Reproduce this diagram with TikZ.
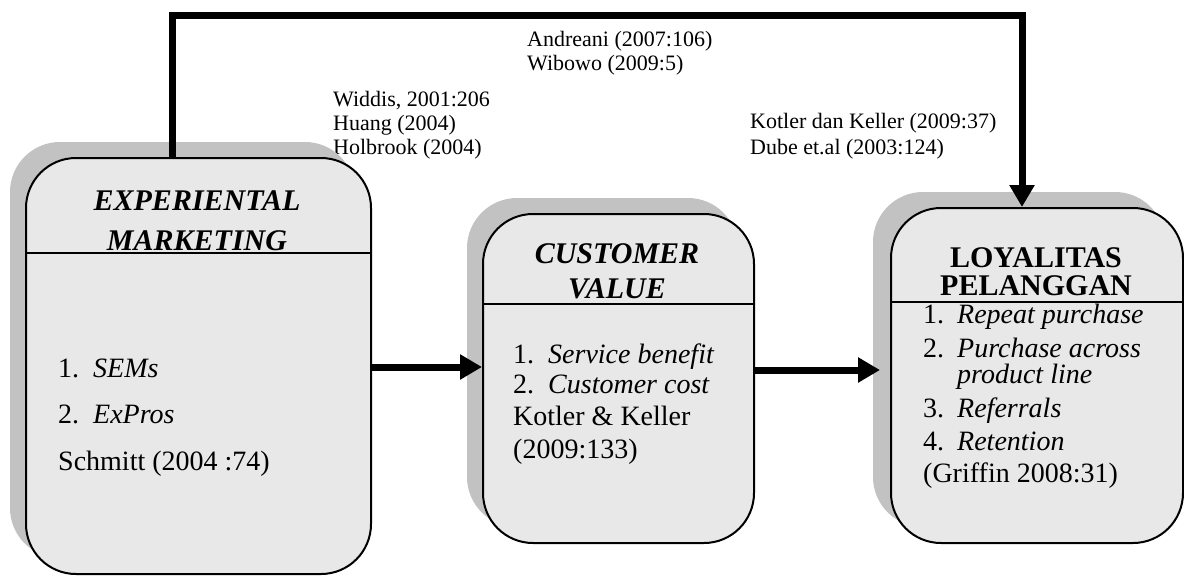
\documentclass[tikz,border=0pt]{standalone}
\usepackage{fontspec}
\setmainfont{Liberation Serif}
\usetikzlibrary{arrows.meta}
\definecolor{boxfill}{HTML}{E8E8E8}
\definecolor{shadowfill}{HTML}{C2C2C2}
\begin{document}
\begin{tikzpicture}[x=1pt,y=-1pt,
  panel/.style={draw=black, line width=2pt, fill=boxfill, rounded corners=50pt, inner sep=0pt, anchor=north west},
  shade/.style={fill=shadowfill, rounded corners=50pt},
  divider/.style={draw=black, line width=2pt},
  flow/.style={line width=7pt, line join=miter, -{Triangle[length=22pt,width=24pt]}},
  cite/.style={anchor=base west, inner sep=0pt, font=\fontsize{22}{24}\selectfont},
  body/.style={anchor=base west, inner sep=0pt, font=\fontsize{28}{30}\selectfont},
  ttl/.style={anchor=base, inner sep=0pt, font=\fontsize{30}{34}\selectfont\bfseries},
]
\useasboundingbox (0,0) rectangle (1184,576);

% citations (drawn first)
\node[cite] (c1) at (527,46) {Andreani (2007:106)};
\node[cite] (c2) at (527,70) {Wibowo (2009:5)};
\node[cite] (c3) at (333,106) {Widdis, 2001:206};
\node[cite] (c4) at (333,130) {Huang (2004)};
\node[cite] (c5) at (333,154) {Holbrook (2004)};
\node[cite] (c6) at (750,128) {Kotler dan Keller (2009:37)};
\node[cite] (c7) at (750,154) {Dube et.al (2003:124)};

% boxes geometry
\path (25,157) coordinate (expNW) (370,573) coordinate (expSE);
\path (482,213) coordinate (cvNW) (753,542) coordinate (cvSE);
\path (890,207) coordinate (loyNW) (1182,542) coordinate (loySE);

% shadows
\fill[shade] ([shift={(-15,-15)}]expNW) rectangle ([shift={(-15,-15)}]expSE);
\fill[shade] ([shift={(-15,-15)}]cvNW) rectangle ([shift={(-15,-15)}]cvSE);
\fill[shade] ([shift={(-17,-15)}]loyNW) rectangle ([shift={(-17,-15)}]loySE);

% panels
\node[panel, minimum width=345pt, minimum height=416pt] (exp) at (expNW) {};
\node[panel, minimum width=271pt, minimum height=329pt] (cv) at (cvNW) {};
\node[panel, minimum width=292pt, minimum height=335pt] (loy) at (loyNW) {};

% dividers
\path (0,253) coordinate (d1) (0,304) coordinate (d2) (0,302) coordinate (d3);
\draw[divider] (exp.west |- d1) -- (exp.east |- d1);
\draw[divider] (cv.west |- d2) -- (cv.east |- d2);
\draw[divider] (loy.west |- d3) -- (loy.east |- d3);

% titles
\node[ttl] (t1) at (197,210) {\itshape EXPERIENTAL};
\node[ttl] (t2) at (197,250) {\itshape MARKETING};
\node[ttl] (t3) at (617,263) {\itshape CUSTOMER};
\node[ttl] (t4) at (617,298) {\itshape VALUE};
\node[ttl] (t5) at (1036,267) {LOYALITAS};
\node[ttl] (t6) at (1036,295) {PELANGGAN};

% left body
\node[body] (e1) at (58,377) {1.};
\node[body] (e1t) at (93,377) {\itshape SEMs};
\node[body] (e2) at (58,423) {2.};
\node[body] (e2t) at (93,423) {\itshape ExPros};
\node[body] (e3) at (58,470) {Schmitt (2004 :74)};

% middle body
\node[body] (v1) at (513,363) {1.};
\node[body] (v1t) at (548,363) {\itshape Service benefit};
\node[body] (v2) at (513,393) {2.};
\node[body] (v2t) at (548,393) {\itshape Customer cost};
\node[body] (v3) at (513,425) {Kotler \& Keller};
\node[body] (v4) at (513,458) {(2009:133)};

% right body
\node[body] (l1) at (923,323) {1.};
\node[body] (l1t) at (957,323) {\itshape Repeat purchase};
\node[body] (l2) at (923,357) {2.};
\node[body] (l2t) at (957,357) {\itshape Purchase across};
\node[body] (l2u) at (957,383) {\itshape product line};
\node[body] (l3) at (923,417) {3.};
\node[body] (l3t) at (957,417) {\itshape Referrals};
\node[body] (l4) at (923,450) {4.};
\node[body] (l4t) at (957,450) {\itshape Retention};
\node[body] (l5) at (923,482) {(Griffin 2008:31)};

% connectors
\path (0,367) coordinate (a1) (0,370) coordinate (a2) (880,370) coordinate (a2end);
\draw[flow] (exp.east |- a1) -- (cv.west |- a1);
\draw[flow] (cv.east |- a2) -- (a2end);
\path (172,15) coordinate (k1) (1022,15) coordinate (k2);
\draw[flow] (exp.north -| k1) -- (k1) -- (k2) -- (loy.north -| k2);
\end{tikzpicture}
\end{document}
